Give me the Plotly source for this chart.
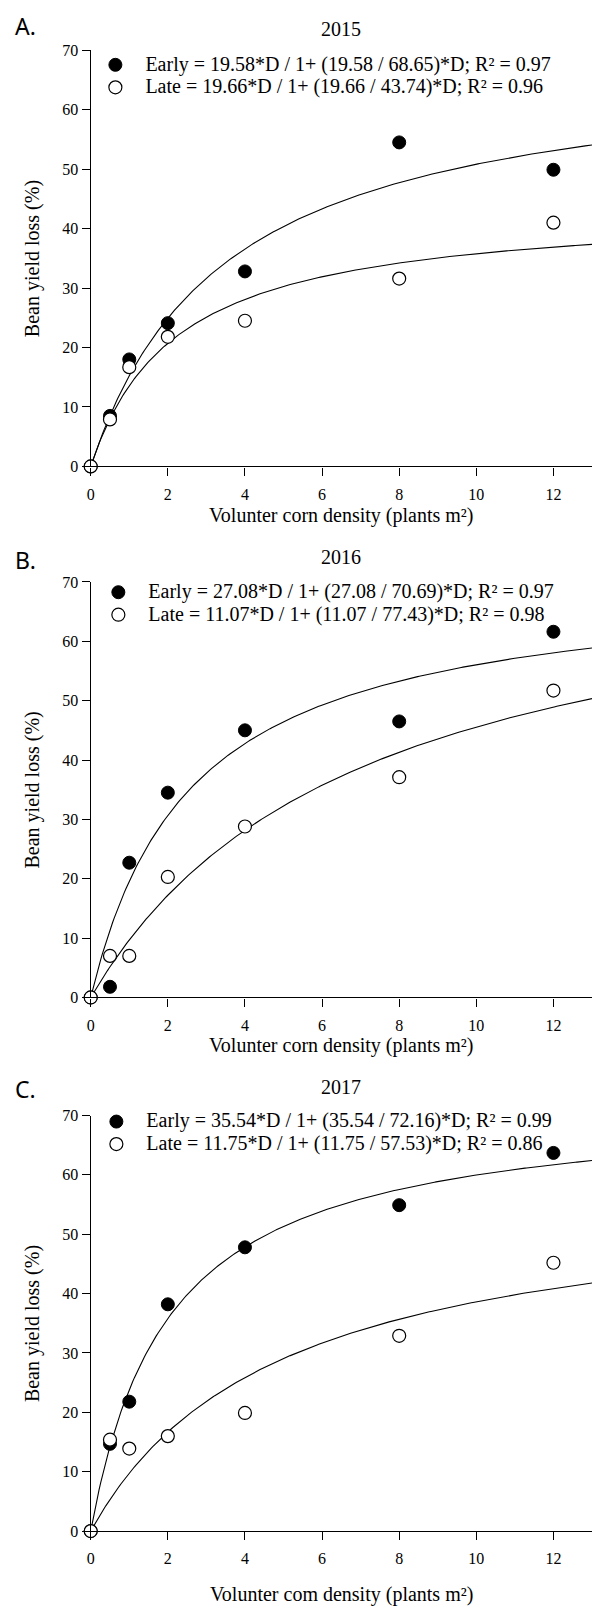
import numpy as np
import plotly.graph_objects as go

W, H = 592, 1615

# ---------------- data ----------------
density = [0, 0.5, 1, 2, 4, 8, 12]

early_2015 = [0, 8.5, 18.0, 24.1, 32.8, 54.5, 49.9]
late_2015 = [0, 7.9, 16.7, 21.8, 24.5, 31.6, 41.0]
early_2016 = [0, 1.8, 22.7, 34.5, 45.0, 46.5, 61.6]
late_2016 = [0, 7.0, 7.0, 20.3, 28.8, 37.1, 51.7]
early_2017 = [0, 14.7, 21.8, 38.2, 47.8, 54.9, 63.7]
late_2017 = [0, 15.4, 13.9, 16.0, 19.9, 32.9, 45.2]

# fitted rectangular-hyperbola parameters printed in the legends (i, a)
early_i = [19.58, 27.08, 35.54]
early_a = [68.65, 70.69, 72.16]
late_i = [19.66, 11.07, 11.75]
late_a = [43.74, 77.43, 57.53]
early_r2 = ["0.97", "0.97", "0.99"]
late_r2 = ["0.96", "0.98", "0.86"]

years = ["2015", "2016", "2017"]
letters = ["A.", "B.", "C."]
x_ticks = [0, 2, 4, 6, 8, 10, 12]
y_ticks = [0, 10, 20, 30, 40, 50, 60, 70]
x_title = ["Volunter corn density (plants m²)", "Volunter corn density (plants m²)",
           "Volunter com density (plants m²)"]
y_title = "Bean yield loss (%)"

early_all = [early_2015, early_2016, early_2017]
late_all = [late_2015, late_2016, late_2017]

# ---------------- layout geometry (pixels) ----------------
x_left = 87.3
panels_px = [(42.7, 463.3), (580.0, 1000.0), (1119.3, 1539.3)]  # (y of 70, y of 0)
title_y = [21.7, 555, 1090]
letter_y = [18.5, 558, 1093]
xtitle_y = [513, 1049, 1603]
legend_top = [41, 574, 1109]
legend_left = [92, 95, 93]

SERIF = "Liberation Serif"
SANS = "Noto Sans"

def py(p):
    return 1 - p / H

def px(p):
    return p / W

fig = go.Figure()
D = np.linspace(0, 13, 300)
annotations = []

def big(s):
    return '<span style="font-size:20px">\u00a0\u00a0' + s + '</span>'

for k in range(3):
    sfx = "" if k == 0 else str(k + 1)
    xa, ya = "x" + sfx, "y" + sfx
    leg = "legend" + sfx
    ei, ea, li, la = early_i[k], early_a[k], late_i[k], late_a[k]
    fig.add_trace(go.Scatter(x=D, y=ei * D / (1 + (ei / ea) * D), mode="lines",
                             line=dict(color="black", width=1.1), xaxis=xa, yaxis=ya,
                             showlegend=False, hoverinfo="skip"))
    fig.add_trace(go.Scatter(x=D, y=li * D / (1 + (li / la) * D), mode="lines",
                             line=dict(color="black", width=1.1), xaxis=xa, yaxis=ya,
                             showlegend=False, hoverinfo="skip"))
    e_name = big("Early = %.2f*D / 1+ (%.2f / %.2f)*D; R² = %s" % (ei, ei, ea, early_r2[k]))
    l_name = big("Late = %.2f*D / 1+ (%.2f / %.2f)*D; R² = %s" % (li, li, la, late_r2[k]))
    fig.add_trace(go.Scatter(x=density, y=early_all[k], mode="markers", name=e_name,
                             marker=dict(size=13, color="black", line=dict(color="black", width=1)),
                             xaxis=xa, yaxis=ya, legend=leg, cliponaxis=False))
    fig.add_trace(go.Scatter(x=density, y=late_all[k], mode="markers", name=l_name,
                             marker=dict(size=13, color="white", line=dict(color="black", width=1.2)),
                             xaxis=xa, yaxis=ya, legend=leg, cliponaxis=False))

    top, bot = panels_px[k]
    axis_common = dict(showline=True, linecolor="black", linewidth=1.3, ticks="outside",
                       ticklen=8, tickwidth=1.3, tickcolor="black", showgrid=False,
                       zeroline=False, tickfont=dict(family=SERIF, size=16, color="black"))
    fig.update_layout(**{
        ("xaxis" + sfx): dict(domain=[px(x_left), 1.0], range=[0, 13.0], anchor=ya,
                              tickvals=x_ticks, ticklabelstandoff=5, **axis_common),
        ("yaxis" + sfx): dict(domain=[py(bot), py(top)], range=[0, 70], anchor=xa,
                              tickvals=y_ticks, **axis_common),
        leg: dict(x=px(legend_left[k]), y=py(legend_top[k]), xanchor="left", yanchor="top",
                  bgcolor="rgba(0,0,0,0)", borderwidth=0, tracegroupgap=0,
                  font=dict(family=SERIF, size=15, color="black")),
    })
    annotations.append(dict(text=years[k], x=(px(x_left) + 1) / 2, y=py(title_y[k]),
                            xref="paper", yref="paper", showarrow=False, xanchor="center",
                            yanchor="middle", font=dict(family=SERIF, size=20, color="black")))
    annotations.append(dict(text=letters[k], x=px(9), y=py(letter_y[k]), xref="paper",
                            yref="paper", showarrow=False, xanchor="left", yanchor="middle",
                            font=dict(family=SANS, size=23, color="black")))
    annotations.append(dict(text=x_title[k], x=(px(x_left) + 1) / 2, y=py(xtitle_y[k]),
                            xref="paper", yref="paper", showarrow=False, xanchor="center",
                            yanchor="middle", font=dict(family=SERIF, size=20, color="black")))
    annotations.append(dict(text=y_title, x=px(29), y=py((top + bot) / 2), xref="paper",
                            yref="paper", showarrow=False, textangle=-90, xanchor="center",
                            yanchor="middle", font=dict(family=SERIF, size=20, color="black")))

fig.update_layout(width=W, height=H, margin=dict(l=0, r=0, t=0, b=0),
                  paper_bgcolor="white", plot_bgcolor="white", annotations=annotations,
                  font=dict(family=SERIF, color="black"))

fig.write_html("out.html", config={"displayModeBar": False},
               post_script="document.body.style.margin='0px';document.body.style.overflow='hidden';")
